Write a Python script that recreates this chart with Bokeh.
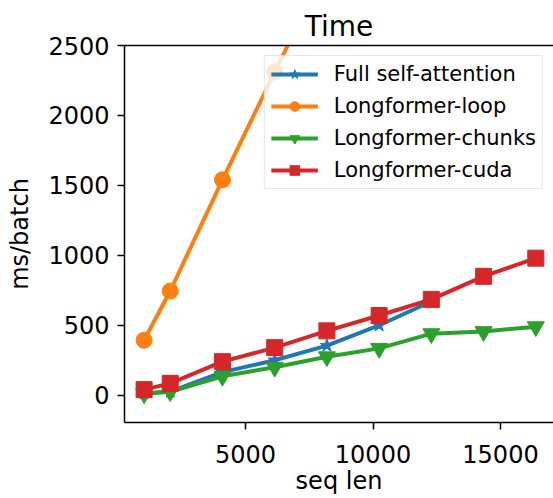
from bokeh.plotting import figure
from bokeh.models import Range1d, FixedTicker, LinearAxis, Legend, LegendItem
from bokeh.embed import file_html
from bokeh.resources import INLINE

seq_len = [1024, 2048, 4096, 6144, 8192, 10240, 12288, 14336, 16384]
full_x = [1024, 2048, 4096, 6144, 8192, 10240, 12288]
full_self_attention = [15, 25, 165, 250, 355, 500, 670]
loop_x = [1024, 2048, 4096, 6144, 8192]
longformer_loop = [393, 745, 1540, 2310, 3070]
longformer_chunks = [10, 25, 135, 200, 275, 335, 440, 455, 490]
longformer_cuda = [40, 85, 240, 340, 460, 570, 685, 850, 980]
x_ticks = [5000, 10000, 15000]
y_ticks = [0, 500, 1000, 1500, 2000, 2500]

FONT = "DejaVu Sans"
BLUE, ORANGE, GREEN, RED = "#1f77b4", "#ff7f0e", "#2ca02c", "#d62728"

p = figure(width=553, height=498, output_backend="svg", toolbar_location=None,
           x_range=Range1d(255, 17078), y_range=Range1d(-195, 2500),
           min_border_left=124, min_border_right=0, min_border_top=45, min_border_bottom=76,
           title="Time", x_axis_label="seq len", y_axis_label="ms/batch")
p.outline_line_color = None
p.grid.visible = False
p.background_fill_color = "white"
p.border_fill_color = "white"

p.title.text_font = FONT
p.title.text_font_size = "28px"
p.title.text_font_style = "normal"
p.title.align = "center"
p.title.text_color = "#000000"
p.title.standoff = 6

for ax in (p.xaxis[0], p.yaxis[0]):
    ax.axis_line_width = 1.5
    ax.axis_line_color = "black"
    ax.major_tick_line_color = "black"
    ax.major_tick_line_width = 1.5
    ax.major_tick_out = 7
    ax.major_tick_in = 0
    ax.minor_tick_line_color = None
    ax.major_label_text_font = FONT
    ax.major_label_text_font_size = "24px"
    ax.major_label_text_color = "#000000"
    ax.axis_label_text_font = FONT
    ax.axis_label_text_font_size = "24px"
    ax.axis_label_text_font_style = "normal"
    ax.axis_label_text_color = "#000000"

p.xaxis[0].ticker = FixedTicker(ticks=x_ticks)
p.yaxis[0].ticker = FixedTicker(ticks=y_ticks)
p.xaxis[0].major_label_standoff = 15
p.yaxis[0].major_label_standoff = 8
p.xaxis[0].axis_label_standoff = 1
p.yaxis[0].axis_label_standoff = 11

top = LinearAxis(ticker=FixedTicker(ticks=[]), axis_line_width=1.5, axis_line_color="black",
                 major_tick_line_color=None, minor_tick_line_color=None,
                 major_label_text_font_size="0px")
p.add_layout(top, "above")

lw = 4
r1 = p.line(full_x, full_self_attention, line_color=BLUE, line_width=lw)
m1 = p.scatter(full_x, full_self_attention, marker="star", size=14, color=BLUE)
r2 = p.line(loop_x, longformer_loop, line_color=ORANGE, line_width=lw)
m2 = p.scatter(loop_x, longformer_loop, marker="circle", size=16, color=ORANGE)
r3 = p.line(seq_len, longformer_chunks, line_color=GREEN, line_width=lw)
m3 = p.scatter(seq_len, longformer_chunks, marker="inverted_triangle", size=17, color=GREEN)
r4 = p.line(seq_len, longformer_cuda, line_color=RED, line_width=lw)
m4 = p.scatter(seq_len, longformer_cuda, marker="square", size=16, color=RED)

legend = Legend(items=[
    LegendItem(label="Full self-attention", renderers=[r1, m1]),
    LegendItem(label="Longformer-loop", renderers=[r2, m2]),
    LegendItem(label="Longformer-chunks", renderers=[r3, m3]),
    LegendItem(label="Longformer-cuda", renderers=[r4, m4]),
], location="top_right")
legend.margin = 10
legend.padding = 6
legend.spacing = 8
legend.glyph_width = 47
legend.glyph_height = 24
legend.label_height = 24
legend.label_standoff = 16
legend.label_text_font = FONT
legend.label_text_font_size = "21px"
legend.label_text_color = "#000000"
legend.border_line_color = "#cccccc"
legend.border_line_width = 1
legend.background_fill_alpha = 0.8
p.add_layout(legend, "center")

open("out.html", "w").write(file_html(p, INLINE))
